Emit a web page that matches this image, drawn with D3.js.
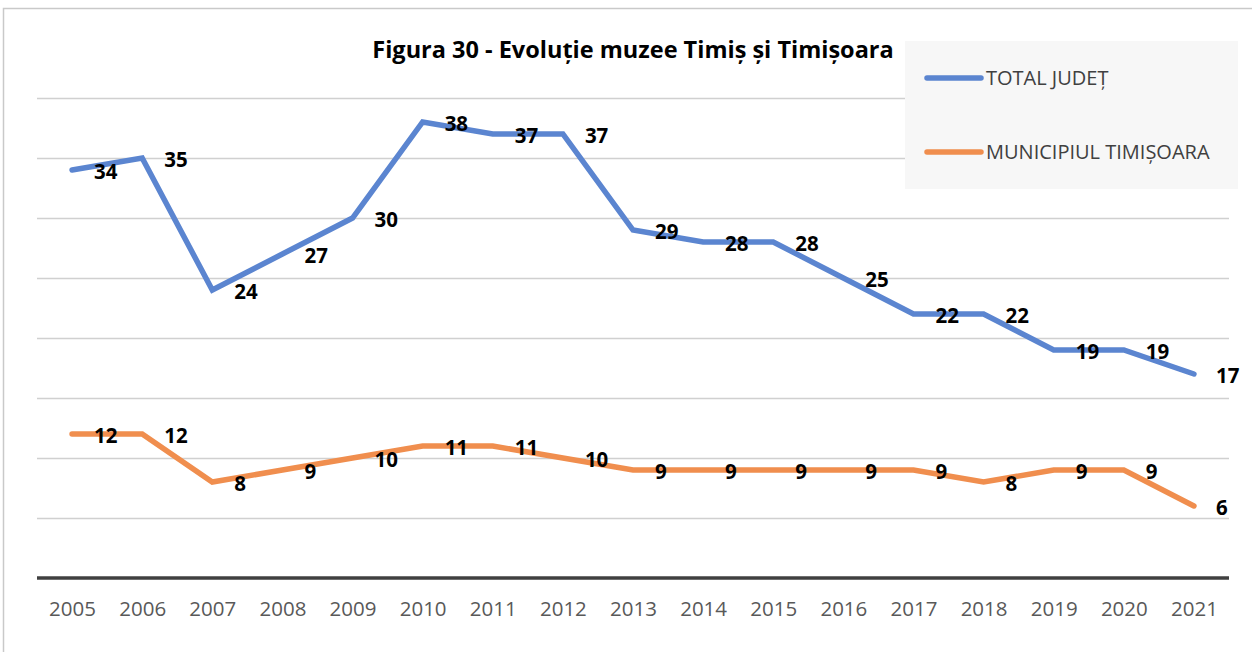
<!DOCTYPE html>
<html>
<head>
<meta charset="utf-8">
<script src="https://cdn.jsdelivr.net/npm/d3@7"></script>
<style>
  body { margin: 0; background: #fff; }
  text { font-family: "Open Sans", "Liberation Sans", sans-serif; }
</style>
</head>
<body>
<script>
// chart data
const years = ["2005", "2006", "2007", "2008", "2009", "2010", "2011", "2012", "2013",
               "2014", "2015", "2016", "2017", "2018", "2019", "2020", "2021"];
const totalJudet = [34, 35, 24, 27, 30, 38, 37, 37, 29, 28, 28, 25, 22, 22, 19, 19, 17];
const municipiu = [12, 12, 8, 9, 10, 11, 11, 10, 9, 9, 9, 9, 9, 8, 9, 9, 6];
const seriesNames = ["TOTAL JUDEȚ", "MUNICIPIUL TIMIȘOARA"];
const yTicks = [0, 5, 10, 15, 20, 25, 30, 35, 40];

const W = 1252, H = 652;
const plot = { left: 37, right: 1229, top: 98, bottom: 578 };

const svg = d3.select("body").append("svg")
    .attr("width", W)
    .attr("height", H);

// outer border (only left and top are visible in the frame)
svg.append("path")
    .attr("d", "M3.5," + H + "V8.5H" + W)
    .attr("fill", "none")
    .attr("stroke", "#c9c9c9")
    .attr("stroke-width", 1.5);

let x = d3.scalePoint().domain(years).range([plot.left, plot.right]).padding(0.5);
let y = d3.scaleLinear().domain([0, 40]).range([plot.bottom, plot.top]);

// gridlines
svg.append("g")
    .selectAll("line")
    .data(yTicks.filter(d => d > 0))
    .enter().append("line")
    .attr("x1", plot.left)
    .attr("x2", plot.right)
    .attr("y1", d => y(d) + 0.5)
    .attr("y2", d => y(d) + 0.5)
    .attr("stroke", "#d0d0d0")
    .attr("stroke-width", 1.3);

// x axis
let xAxis = svg.append("g")
    .attr("transform", "translate(0," + plot.bottom + ")")
    .call(d3.axisBottom(x).tickSize(0).tickPadding(23));
xAxis.select(".domain")
    .attr("d", "M" + plot.left + ",0H" + plot.right)
    .attr("stroke", "#404040")
    .attr("stroke-width", 3.5);
xAxis.selectAll("text")
    .attr("font-size", 20.5)
    .attr("fill", "#595959")
    .style("font-family", "'Open Sans', sans-serif");

// legend box
svg.append("rect")
    .attr("x", 905).attr("y", 41)
    .attr("width", 333).attr("height", 148)
    .attr("fill", "#f7f7f7");

// title
svg.append("text")
    .attr("x", 633)
    .attr("y", 58)
    .attr("text-anchor", "middle")
    .attr("font-size", 23.5)
    .attr("font-weight", "bold")
    .attr("fill", "#000")
    .text("Figura 30 - Evoluție muzee Timiș și Timișoara");

// lines + labels
const series = [
    { name: seriesNames[0], values: totalJudet, color: "#5b85d0" },
    { name: seriesNames[1], values: municipiu, color: "#f08e4e" }
];

let line = d3.line()
    .x((d, i) => x(years[i]))
    .y(d => y(d));

series.forEach(function (s) {
    svg.append("path")
        .datum(s.values)
        .attr("d", line)
        .attr("fill", "none")
        .attr("stroke", s.color)
        .attr("stroke-width", 5.5)
        .attr("stroke-linejoin", "miter")
        .attr("stroke-linecap", "round");
});

series.forEach(function (s) {
    svg.append("g")
        .selectAll("text")
        .data(s.values)
        .enter().append("text")
        .attr("x", (d, i) => x(years[i]) + 22)
        .attr("y", d => y(d) + 9)
        .attr("font-size", 20.5)
        .attr("font-weight", "bold")
        .attr("fill", "#000")
        .text(d => d);
});

// legend entries
series.forEach(function (s, i) {
    let ly = 78 + i * 74;
    svg.append("line")
        .attr("x1", 927).attr("x2", 981)
        .attr("y1", ly).attr("y2", ly)
        .attr("stroke", s.color)
        .attr("stroke-width", 5.5)
        .attr("stroke-linecap", "round");
    svg.append("text")
        .attr("x", 986)
        .attr("y", ly + 7)
        .attr("font-size", 20)
        .attr("fill", "#404040")
        .text(s.name);
});
</script>
</body>
</html>
